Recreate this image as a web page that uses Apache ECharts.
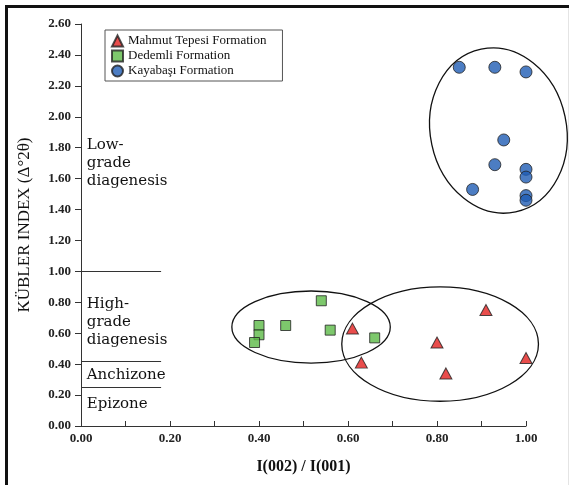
<!DOCTYPE html>
<html>
<head>
	<meta charset="utf-8">
	<title>Kübler index vs I(002)/I(001)</title>
	<script type="text/javascript" src="https://cdn.jsdelivr.net/npm/echarts@6/dist/echarts.min.js"></script>
	<style type="text/css">
		html,body{margin:0;padding:0;background:#fff;}
		#main{width:576px;height:485px;}
	</style>
</head>
<body>
<div id="main"></div>
<script type="text/javascript">
	// data
	var mahX = [0.91, 0.61, 0.80, 1.00, 0.63, 0.82];
	var mahY = [0.75, 0.63, 0.54, 0.44, 0.41, 0.34];
	var dedX = [0.54, 0.40, 0.46, 0.56, 0.40, 0.39, 0.66];
	var dedY = [0.81, 0.65, 0.65, 0.62, 0.59, 0.54, 0.57];
	var kayX = [0.85, 0.93, 1.00, 0.95, 0.93, 1.00, 1.00, 0.88, 1.00, 1.00];
	var kayY = [2.32, 2.32, 2.29, 1.85, 1.69, 1.66, 1.61, 1.53, 1.49, 1.46];
	var seriesNames = ['Mahmut Tepesi Formation', 'Dedemli Formation', 'Kayabaşı Formation'];

	// grouping ellipses: centre x, centre y, radius x, radius y, rotation (deg)
	var ellCx = [0.807, 0.517, 0.938];
	var ellCy = [0.530, 0.640, 1.911];
	var ellRx = [0.221, 0.178, 0.153];
	var ellRy = [0.370, 0.233, 0.538];
	var ellRot = [0, 0, 12];

	// zone boundaries and labels
	var zoneLines = [1.00, 0.42, 0.25];
	var zoneLabels = [
		{text: 'Low-\ngrade\ndiagenesis', y: 1.70},
		{text: 'High-\ngrade\ndiagenesis', y: 0.67},
		{text: 'Anchizone', y: 0.33},
		{text: 'Epizone', y: 0.14}
	];

	function pairs(xs, ys){
		var out = [];
		for(var i=0;i<xs.length;i++){
			out.push([xs[i], ys[i]]);
		}
		return out;
	}

	var ellData = [];
	for(var k=0;k<ellCx.length;k++){
		ellData.push([ellCx[k], ellCy[k], ellRx[k], ellRy[k], ellRot[k]]);
	}

	var serif = 'Liberation Serif';
	var myChart = echarts.init(document.getElementById('main'));

	var option = {
		animation: false,
		grid: {
			left: 81,
			right: 50,
			top: 24,
			bottom: 59
		},
		legend: {
			orient: 'vertical',
			left: 105,
			top: 30,
			data: seriesNames,
			padding: [4, 16, 3, 6],
			itemWidth: 11,
			itemHeight: 11,
			itemGap: 1,
			borderColor: '#555',
			borderWidth: 1,
			textStyle: {
				fontFamily: serif,
				fontSize: 13,
				lineHeight: 14,
				color: '#111'
			}
		},
		xAxis: {
			type: 'value',
			min: 0,
			max: 1,
			interval: 0.2,
			name: 'I(002) / I(001)',
			nameLocation: 'middle',
			nameGap: 33,
			nameTextStyle: {
				fontFamily: serif,
				fontWeight: 'bold',
				fontSize: 16,
				color: '#111'
			},
			axisLine: {lineStyle: {color: '#333', width: 1}},
			axisTick: {inside: true, length: 5, lineStyle: {color: '#333'}},
			minorTick: {show: true, splitNumber: 2, length: 5, lineStyle: {color: '#333'}},
			splitLine: {show: false},
			axisLabel: {
				fontFamily: serif,
				fontWeight: 'bold',
				fontSize: 13,
				color: '#222',
				margin: 6,
				formatter: function(v){ return v.toFixed(2); }
			}
		},
		yAxis: {
			type: 'value',
			min: 0,
			max: 2.6,
			interval: 0.2,
			name: 'KÜBLER INDEX (Δ°2θ)',
			nameLocation: 'middle',
			nameGap: 48,
			nameTextStyle: {
				fontFamily: serif,
				fontSize: 17,
				color: '#111'
			},
			axisLine: {show: true, lineStyle: {color: '#333', width: 1}},
			axisTick: {show: true, length: 6, lineStyle: {color: '#333'}},
			splitLine: {show: false},
			axisLabel: {
				fontFamily: serif,
				fontWeight: 'bold',
				fontSize: 13,
				color: '#222',
				margin: 10,
				formatter: function(v){ return v.toFixed(2); }
			}
		},
		series: [
			{
				name: seriesNames[0],
				type: 'scatter',
				symbol: 'triangle',
				symbolSize: [12, 11],
				z: 4,
				itemStyle: {color: '#e3201f', borderColor: '#222', borderWidth: 1},
				data: pairs(mahX, mahY),
				markLine: {
					silent: true,
					symbol: 'none',
					label: {show: false},
					lineStyle: {color: '#333', type: 'solid', width: 1},
					data: zoneLines.map(function(v){
						return [{coord: [0, v]}, {coord: [0.18, v]}];
					})
				}
			},
			{
				name: seriesNames[1],
				type: 'scatter',
				symbol: 'rect',
				symbolSize: 10,
				z: 4,
				itemStyle: {color: '#5cba47', borderColor: '#222', borderWidth: 1},
				data: pairs(dedX, dedY)
			},
			{
				name: seriesNames[2],
				type: 'scatter',
				symbol: 'circle',
				symbolSize: 12,
				z: 4,
				itemStyle: {color: '#1f5cb4', borderColor: '#222', borderWidth: 1},
				data: pairs(kayX, kayY)
			},
			{
				name: 'groups',
				type: 'custom',
				silent: true,
				z: 2,
				data: ellData,
				renderItem: function(params, api){
					var c = api.coord([api.value(0), api.value(1)]);
					var s = api.size([api.value(2), api.value(3)]);
					return {
						type: 'ellipse',
						x: c[0],
						y: c[1],
						rotation: api.value(4) * Math.PI / 180,
						shape: {cx: 0, cy: 0, rx: s[0], ry: s[1]},
						style: {fill: 'none', stroke: '#111', lineWidth: 1.3}
					};
				}
			}
		]
	};

	myChart.setOption(option);

	// frame and zone labels, placed through the grid's own scale
	var gfx = [
		{type: 'line', shape: {x1: 6.5, y1: 6, x2: 6.5, y2: 485}, style: {stroke: '#111', lineWidth: 3}},
		{type: 'line', shape: {x1: 5, y1: 6.5, x2: 569, y2: 6.5}, style: {stroke: '#111', lineWidth: 3}},
		{type: 'line', shape: {x1: 568.5, y1: 8, x2: 568.5, y2: 485}, style: {stroke: '#e4e4e4', lineWidth: 1}}
	];
	zoneLabels.forEach(function(z){
		var p = myChart.convertToPixel({gridIndex: 0}, [0.013, z.y]);
		gfx.push({
			type: 'text',
			x: p[0],
			y: p[1],
			silent: true,
			style: {
				text: z.text,
				fontFamily: 'DejaVu Serif',
				fontSize: 15,
				lineHeight: 18,
				fill: '#111',
				align: 'left',
				verticalAlign: 'middle'
			}
		});
	});
	myChart.setOption({graphic: gfx});
</script>
</body>
</html>
